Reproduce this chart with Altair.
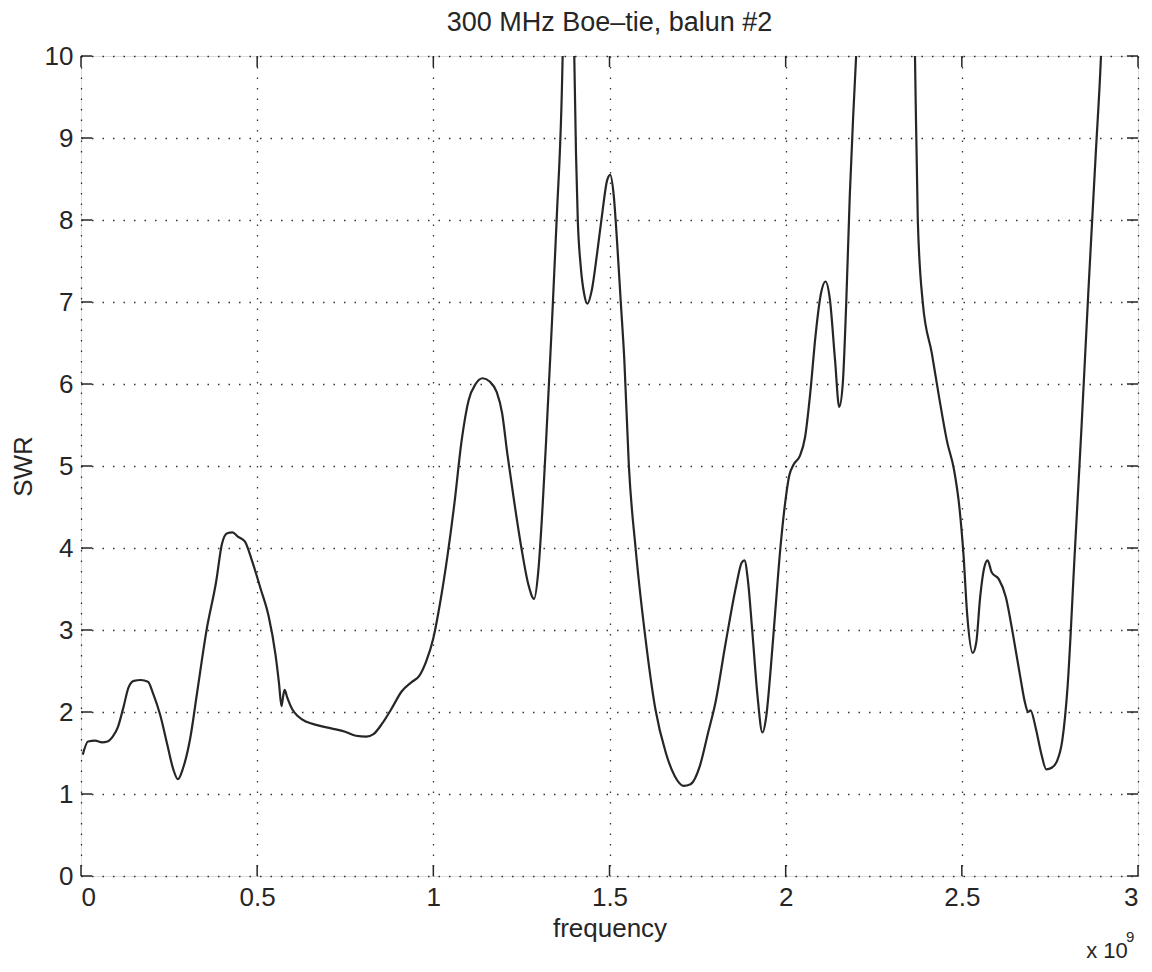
import altair as alt
import pandas as pd

# frequency in units of 1e9 Hz, SWR values
freq = [0.005, 0.02, 0.04, 0.06, 0.075, 0.09, 0.105, 0.12, 0.135, 0.15, 0.17, 0.19, 0.205, 0.225,
        0.245, 0.262, 0.275, 0.29, 0.31, 0.33, 0.356, 0.384, 0.40, 0.415, 0.43, 0.445, 0.465, 0.485,
        0.51, 0.532, 0.552, 0.562, 0.569, 0.574, 0.578, 0.585, 0.60, 0.615, 0.64, 0.67, 0.71, 0.75,
        0.78, 0.81, 0.83, 0.855, 0.88, 0.91, 0.94, 0.96, 0.98, 1.0, 1.02, 1.04, 1.06, 1.08, 1.10,
        1.12, 1.14, 1.16, 1.18, 1.195, 1.21, 1.23, 1.25, 1.27, 1.286, 1.298, 1.31, 1.32, 1.335, 1.35,
        1.367, 1.385, 1.40, 1.405, 1.41, 1.418, 1.428, 1.437, 1.45, 1.465, 1.48, 1.493, 1.502, 1.512,
        1.522, 1.532, 1.542, 1.555, 1.574, 1.60, 1.63, 1.66, 1.685, 1.71, 1.73, 1.757, 1.78, 1.80,
        1.83, 1.86, 1.875, 1.883, 1.893, 1.905, 1.92, 1.934, 1.945, 1.958, 1.97, 1.985, 2.0, 2.01,
        2.023, 2.04, 2.055, 2.07, 2.085, 2.10, 2.113, 2.125, 2.14, 2.152, 2.162, 2.172, 2.182, 2.192,
        2.20, 2.28, 2.367, 2.375, 2.389, 2.415, 2.437, 2.458, 2.478, 2.493, 2.505, 2.515, 2.531, 2.541,
        2.552, 2.563, 2.573, 2.585, 2.605, 2.625, 2.645, 2.665, 2.68, 2.688, 2.695, 2.71, 2.725, 2.74,
        2.755, 2.77, 2.785, 2.80, 2.82, 2.84, 2.86, 2.88, 2.895, 2.95]
swr = [1.48, 1.64, 1.65, 1.63, 1.64, 1.70, 1.82, 2.05, 2.30, 2.38, 2.39, 2.37, 2.22, 1.96,
       1.60, 1.30, 1.18, 1.32, 1.68, 2.25, 2.99, 3.60, 4.05, 4.18, 4.19, 4.14, 4.08, 3.85,
       3.50, 3.18, 2.70, 2.35, 2.07, 2.20, 2.27, 2.18, 2.03, 1.95, 1.88, 1.84, 1.80, 1.76,
       1.71, 1.70, 1.73, 1.86, 2.03, 2.25, 2.37, 2.44, 2.62, 2.90, 3.35, 3.90, 4.55, 5.30, 5.80,
       6.00, 6.07, 6.03, 5.90, 5.65, 5.15, 4.55, 4.00, 3.55, 3.38, 3.72, 4.50, 5.30, 6.60, 8.00,
       10.0, 16.0, 10.0, 8.80, 8.00, 7.45, 7.10, 6.98, 7.15, 7.60, 8.10, 8.48, 8.55, 8.30,
       7.70, 7.00, 6.30, 5.00, 4.00, 2.97, 2.04, 1.50, 1.22, 1.10, 1.12, 1.35, 1.75, 2.10,
       2.85, 3.55, 3.82, 3.85, 3.60, 3.00, 2.20, 1.75, 1.95, 2.55, 3.20, 4.00, 4.60, 4.88,
       5.02, 5.12, 5.35, 5.90, 6.60, 7.10, 7.25, 7.05, 6.30, 5.72, 6.00, 7.00, 8.30, 9.30,
       10.0, 25.0, 10.0, 8.00, 7.00, 6.37, 5.80, 5.30, 4.95, 4.50, 3.90, 3.20, 2.72, 2.85,
       3.40, 3.75, 3.85, 3.70, 3.62, 3.40, 2.95, 2.45, 2.10, 2.00, 2.02, 1.80, 1.50, 1.30,
       1.32, 1.40, 1.65, 2.30, 3.90, 5.50, 7.20, 8.80, 10.0, 20.0]

x_ticks = [0, 0.5, 1, 1.5, 2, 2.5, 3]
y_ticks = [0, 1, 2, 3, 4, 5, 6, 7, 8, 9, 10]

df = pd.DataFrame({"frequency": freq, "SWR": swr})

FONT = "Liberation Sans"
INK = "#262626"

xs = alt.Scale(domain=[0, 3], nice=False, zero=False)
ys = alt.Scale(domain=[0, 10], nice=False, zero=False)

grid_dash = [1.5, 9]

base = alt.Chart(df)

curve = base.mark_line(clip=True, color=INK, strokeWidth=2.2, interpolate="monotone").encode(
    x=alt.X("frequency:Q", scale=xs,
            axis=alt.Axis(values=x_ticks, format="~g", title="frequency", grid=True,
                          gridDash=grid_dash, gridColor="#000000", gridOpacity=0.8, gridWidth=1.3,
                          domain=False, ticks=False, labelPadding=8, labelFontSize=26,
                          titleFontSize=26, titlePadding=5, labelColor=INK, titleColor=INK,
                          titleFontWeight="normal", labelFont=FONT, titleFont=FONT)),
    y=alt.Y("SWR:Q", scale=ys,
            axis=alt.Axis(values=y_ticks, format="d", title="SWR", grid=True,
                          gridDash=grid_dash, gridColor="#000000", gridOpacity=0.8, gridWidth=1.3,
                          domain=False, ticks=False, labelPadding=8, labelFontSize=26,
                          titleFontSize=26, titlePadding=8, labelColor=INK, titleColor=INK,
                          titleFontWeight="normal", labelFont=FONT, titleFont=FONT)),
)

# inward ticks on all four sides
xt = pd.DataFrame({"x": x_ticks})
yt = pd.DataFrame({"y": y_ticks})
tk = dict(color=INK, strokeWidth=1.5)
top_ticks = alt.Chart(xt).mark_rule(**tk).encode(
    x=alt.X("x:Q", scale=xs), y=alt.value(0), y2=alt.value(11))
bot_ticks = alt.Chart(xt).mark_rule(**tk).encode(
    x=alt.X("x:Q", scale=xs), y=alt.value(820), y2=alt.value(809))
left_ticks = alt.Chart(yt).mark_rule(**tk).encode(
    y=alt.Y("y:Q", scale=ys), x=alt.value(0), x2=alt.value(11))
right_ticks = alt.Chart(yt).mark_rule(**tk).encode(
    y=alt.Y("y:Q", scale=ys), x=alt.value(1057), x2=alt.value(1046))

exp_df = pd.DataFrame({"t": ["x 10"], "s": ["9"]})
exp_main = alt.Chart(exp_df).mark_text(font=FONT, fontSize=22, color=INK, align="center",
                                       baseline="alphabetic").encode(
    text="t:N", x=alt.value(1026), y=alt.value(902))
exp_sup = alt.Chart(exp_df).mark_text(font=FONT, fontSize=15, color=INK, align="left",
                                      baseline="alphabetic").encode(
    text="s:N", x=alt.value(1045), y=alt.value(886))

chart = alt.layer(curve, top_ticks, bot_ticks, left_ticks, right_ticks, exp_main, exp_sup).properties(
    width=1057, height=820,
    title=alt.TitleParams("300 MHz Boe\u2013tie, balun #2", font=FONT, fontSize=27,
                          fontWeight="normal", color=INK, anchor="middle", offset=6),
    autosize=alt.AutoSizeParams(type="none"),
    padding={"left": 73, "top": 48, "right": 6, "bottom": 88},
).configure_view(stroke=INK, strokeWidth=1.8).configure(background="white")

chart.save("out.html", embed_options={"renderer": "svg", "actions": False})
